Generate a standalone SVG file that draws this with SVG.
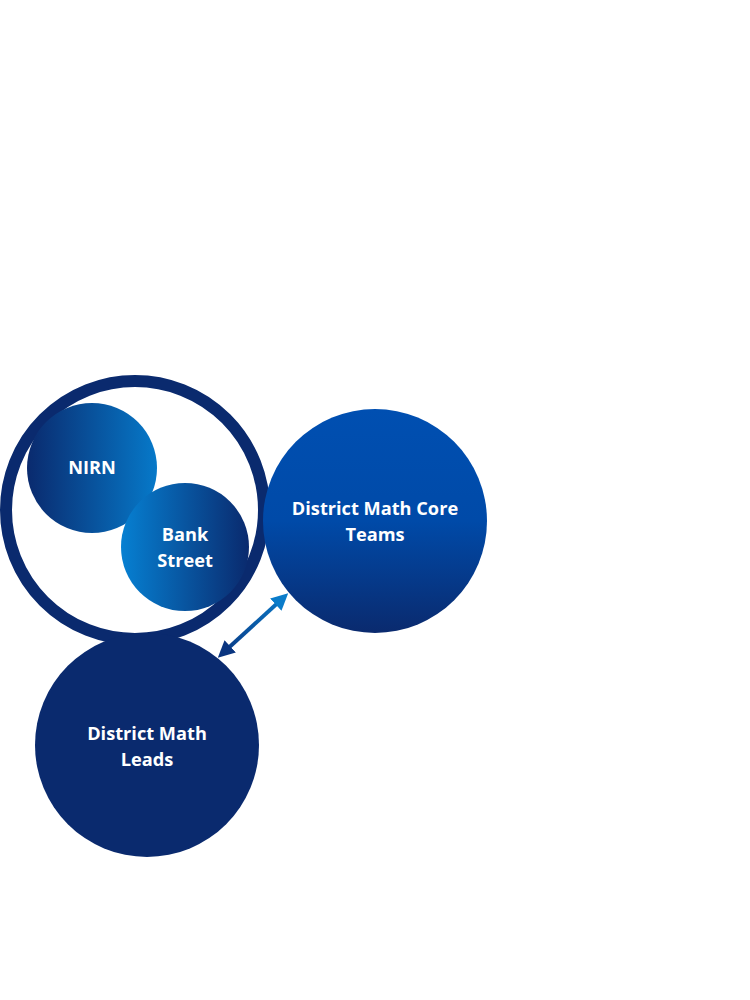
<svg xmlns="http://www.w3.org/2000/svg" width="750" height="1000" viewBox="0 0 750 1000">
<defs>
<style>
.lbl{font-family:"Open Sans","Noto Sans","Liberation Sans",sans-serif;font-weight:700;font-size:18.2px;fill:#ffffff;text-anchor:middle}
</style>
<linearGradient id="gNirn" x1="0" y1="0" x2="1" y2="0">
<stop offset="0" stop-color="#0a2a6e"/>
<stop offset="1" stop-color="#0679c9"/>
</linearGradient>
<linearGradient id="gBank" x1="0" y1="0" x2="1" y2="0">
<stop offset="0" stop-color="#0680d2"/>
<stop offset="1" stop-color="#0a2a6e"/>
</linearGradient>
<linearGradient id="gCore" x1="0" y1="0" x2="0" y2="1">
<stop offset="0" stop-color="#004fb1"/>
<stop offset="0.5" stop-color="#004aa8"/>
<stop offset="1" stop-color="#0a2a6e"/>
</linearGradient>
<linearGradient id="gArrow" gradientUnits="userSpaceOnUse" x1="217" y1="658" x2="289" y2="593">
<stop offset="0" stop-color="#0a3580"/>
<stop offset="1" stop-color="#0a7cca"/>
</linearGradient>
<marker id="headEnd" viewBox="0 0 10 10" refX="5" refY="5" markerWidth="4.2" markerHeight="4.2" orient="auto" markerUnits="strokeWidth">
<path d="M0,0 L10,5 L0,10 z" fill="#0a7cca"/>
</marker>
<marker id="headStart" viewBox="0 0 10 10" refX="5" refY="5" markerWidth="4.2" markerHeight="4.2" orient="auto-start-reverse" markerUnits="strokeWidth">
<path d="M0,0 L10,5 L0,10 z" fill="#0a3580"/>
</marker>
</defs>
<rect width="750" height="1000" fill="#ffffff"/>
<g id="group-ring">
<circle cx="135" cy="510" r="129" fill="none" stroke="#0a2a6e" stroke-width="12"/>
</g>
<g id="node-nirn">
<circle cx="92" cy="468" r="65" fill="url(#gNirn)"/>
<text class="lbl" x="92" y="474">NIRN</text>
</g>
<g id="node-bank-street">
<circle cx="185" cy="547" r="64" fill="url(#gBank)"/>
<text class="lbl" x="185" y="541">Bank</text>
<text class="lbl" x="185" y="567">Street</text>
</g>
<g id="node-core-teams">
<circle cx="375" cy="521" r="112" fill="url(#gCore)"/>
<text class="lbl" x="375" y="515">District Math Core</text>
<text class="lbl" x="375" y="541">Teams</text>
</g>
<g id="node-leads">
<circle cx="147" cy="745" r="112" fill="#0a2a6e"/>
<text class="lbl" x="147" y="740">District Math</text>
<text class="lbl" x="147" y="766">Leads</text>
</g>
<g id="connectors">
<line x1="224" y1="652" x2="282" y2="599" stroke="url(#gArrow)" stroke-width="4" marker-start="url(#headStart)" marker-end="url(#headEnd)"/>
</g>
</svg>
